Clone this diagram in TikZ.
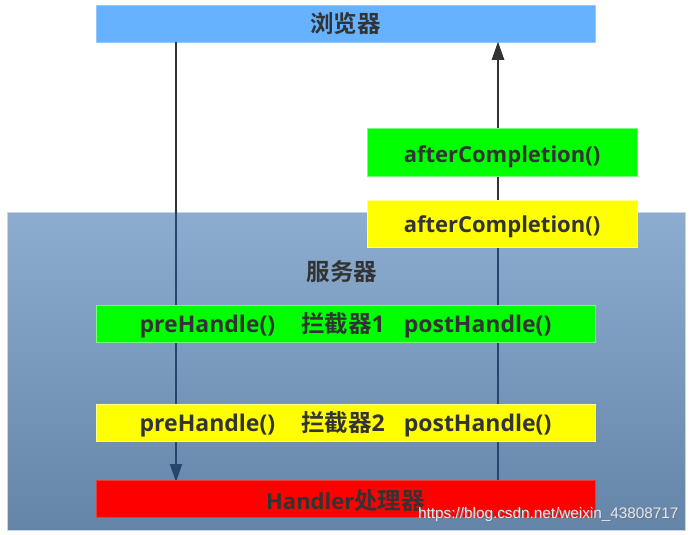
\documentclass[tikz,border=0pt]{standalone}
\usepackage{fontspec}
\setmainfont{Open Sans}
\newfontfamily\cjk{Noto Sans CJK SC}[BoldFont={Noto Sans CJK SC Bold}]
\newfontfamily\wmfont{Liberation Sans}
\usetikzlibrary{arrows.meta}
\definecolor{browserblue}{RGB}{102,178,255}
\definecolor{browserline}{RGB}{150,200,255}
\definecolor{srvtop}{RGB}{140,172,208}
\definecolor{srvbot}{RGB}{100,132,168}
\definecolor{srvline}{RGB}{200,212,226}
\definecolor{txt}{RGB}{51,51,51}
\definecolor{navy}{RGB}{40,70,108}
\definecolor{darkline}{RGB}{51,51,51}
\definecolor{wmtext}{RGB}{228,232,238}
\definecolor{wmshadow}{RGB}{110,120,135}
\newcommand{\cj}[1]{{\fontsize{23.5}{26}\selectfont\cjk\bfseries #1}}
\newcommand{\lo}[2]{\raisebox{-#1pt}[\height][\depth]{#2}}
\tikzset{
  box/.style={minimum width=499pt, minimum height=37pt, inner sep=0pt, outer sep=0pt,
    text=txt, font=\fontsize{22}{26}\selectfont\bfseries},
  rowtext/.style={font=\fontsize{23}{26}\selectfont\bfseries},
  greenbox/.style={fill={rgb,255:red,0;green,255;blue,0}, draw={rgb,255:red,120;green,255;blue,120}, line width=0.6pt},
  yellowbox/.style={fill={rgb,255:red,255;green,255;blue,0}, draw={rgb,255:red,255;green,255;blue,140}, line width=0.6pt},
  redbox/.style={fill={rgb,255:red,255;green,0;blue,0}, draw={rgb,255:red,230;green,60;blue,60}, line width=0.6pt},
  flow/.style={line width=2pt, -{Triangle[length=18pt,width=12pt]}},
}
\begin{document}
\begin{tikzpicture}[x=1pt,y=-1pt]
\useasboundingbox (0,0) rectangle (691,535);
\fill[white] (0,0) rectangle (691,535);
% server background
\shade[top color=srvtop, bottom color=srvbot] (7,212) rectangle (685,530);
\draw[srvline, line width=0.8pt] (7,212) rectangle (685,530);
\node[text=txt, inner sep=0pt] (server) at (342,272) {\cj{服务器}};
% boxes (for anchors)
\node[box, fill=browserblue, draw=browserline, line width=0.6pt] (browser) at (345.5,23.5) {\cj{浏览器}};
\node[box, greenbox, minimum width=270pt, minimum height=48pt] (after1) at (502,152) {};
\node[box, yellowbox, minimum width=270pt, minimum height=47pt] (after2) at (502,223.5) {};
\coordinate (xl) at (176,0);
\coordinate (xr) at (498,0);
% connectors: navy inside server, dark gray above it
\draw[flow, navy] (xl |- browser.south) -- ([yshift=-2pt]xl |- 0,480);
\draw[flow, navy] (xr |- 0,480) -- (xr |- browser.south);
\begin{scope}
\clip (0,0) rectangle (691,212);
\draw[flow, darkline] (xl |- browser.south) -- ([yshift=-2pt]xl |- 0,480);
\draw[flow, darkline] (xr |- 0,480) -- (xr |- browser.south);
\end{scope}
% boxes on top
\node[box, greenbox, minimum width=270pt, minimum height=48pt] at (after1) {\lo{5}{afterCompletion()}};
\node[box, yellowbox, minimum width=270pt, minimum height=47pt] at (after2) {\lo{3}{afterCompletion()}};
\node[box, greenbox, rowtext] (int1) at (345.5,323.5) {\lo{2}{preHandle()\hspace{26pt}\cj{拦截器}1\hspace{19pt}postHandle()}};
\node[box, yellowbox, rowtext] (int2) at (345.5,422.5) {\lo{2}{preHandle()\hspace{26pt}\cj{拦截器}2\hspace{19pt}postHandle()}};
\node[box, redbox] (handler) at (345.5,498.5) {\lo{2}{Handler\cj{处理器}}};
% watermark
\node[text=wmshadow, font=\fontsize{15.3}{18}\selectfont\wmfont, anchor=east] at (683,516) {https://blog.csdn.net/weixin\_43808717};
\node[text=wmtext, font=\fontsize{15.3}{18}\selectfont\wmfont, anchor=east] (wm) at (682,515) {https://blog.csdn.net/weixin\_43808717};
\end{tikzpicture}
\end{document}
